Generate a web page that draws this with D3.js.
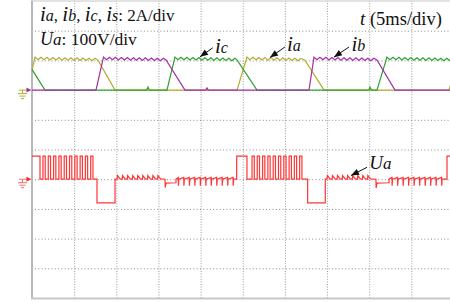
<!DOCTYPE html>
<html><head><meta charset="utf-8">
<script src="https://cdn.jsdelivr.net/npm/d3@7"></script>
<style>html,body{margin:0;padding:0;background:#fff;} svg{display:block;}</style>
</head><body>
<svg id="chart" width="450" height="303"></svg>
<script>
// ---------- DATA (time in ms, currents in A, voltage in V) ----------
const timeTicks = [0,5,10,15,20,25,30,35,40,45,50];          // 5 ms/div
const divisionTicks = [0,1,2,3,4,5,6,7,8,9,10];               // vertical divisions

const ia = [[0,1.35],[0.36,2.22],[0.71,2.05],[1.07,2.21],[1.42,2.04],[1.78,2.21],[2.13,2.03],[2.49,2.2],[2.84,2.03],[3.2,2.19],[3.56,2.02],[3.91,2.18],[4.27,2.01],[4.62,2.18],[4.98,2.0],[5.34,2.17],[5.69,1.99],[6.05,2.16],[6.4,1.99],[6.76,2.15],[7.12,1.98],[7.47,2.14],[7.83,2.02],[9.85,0],[24.32,0],[25.5,2.22],[25.85,2.05],[26.21,2.21],[26.56,2.04],[26.92,2.2],[27.27,2.03],[27.63,2.2],[27.98,2.02],[28.34,2.19],[28.7,2.01],[29.05,2.18],[29.41,2.0],[29.76,2.17],[30.12,2.0],[30.47,2.16],[30.83,1.99],[31.18,2.15],[31.54,1.98],[31.9,2.14],[32.38,2.02],[34.64,0],[49.46,0],[50,1.0]];

const ib = [[0,0],[7.59,0],[8.48,2.22],[8.83,2.05],[9.19,2.21],[9.54,2.04],[9.9,2.21],[10.25,2.03],[10.61,2.2],[10.96,2.03],[11.32,2.19],[11.67,2.02],[12.03,2.18],[12.38,2.01],[12.74,2.18],[13.09,2.0],[13.45,2.17],[13.8,1.99],[14.16,2.16],[14.51,1.99],[14.87,2.15],[15.22,1.98],[15.58,2.14],[15.9,2.03],[18.15,0],[20.6,0],[20.76,0.15],[20.9,0],[32.86,0],[33.45,2.22],[33.8,2.05],[34.16,2.21],[34.51,2.04],[34.87,2.21],[35.22,2.03],[35.58,2.2],[35.93,2.03],[36.29,2.19],[36.64,2.02],[37.0,2.18],[37.35,2.01],[37.71,2.18],[38.06,2.0],[38.42,2.17],[38.77,1.99],[39.13,2.16],[39.48,1.99],[39.84,2.15],[40.19,1.98],[40.55,2.14],[40.92,2.03],[43.06,0],[50,0]];

const ic = [[0,1.4],[1.54,0],[13.6,0],[13.76,0.2],[13.9,0],[16.01,0],[16.96,2.22],[17.31,2.05],[17.67,2.21],[18.02,2.04],[18.38,2.21],[18.73,2.03],[19.09,2.2],[19.44,2.03],[19.8,2.19],[20.15,2.02],[20.51,2.18],[20.86,2.01],[21.22,2.18],[21.57,2.0],[21.93,2.17],[22.28,1.99],[22.64,2.16],[22.99,1.99],[23.35,2.15],[23.7,1.98],[24.06,2.14],[24.32,2.04],[26.69,0],[39.95,0],[40.09,0.2],[40.25,0],[40.92,0],[42.11,2.22],[42.46,2.05],[42.82,2.21],[43.17,2.04],[43.53,2.21],[43.88,2.03],[44.24,2.2],[44.59,2.03],[44.95,2.19],[45.3,2.02],[45.66,2.18],[46.01,2.01],[46.37,2.18],[46.72,2.0],[47.08,2.17],[47.43,1.99],[47.79,2.16],[48.14,1.99],[48.5,2.15],[48.85,1.98],[49.21,2.14],[49.56,1.98],[50,1.96]];

const ua = [[0,78],[0.95,78],[0.95,0],
[1.3,0],[1.3,78],[1.57,78],[1.57,0],[1.93,0],[1.93,78],[2.2,78],[2.2,0],[2.56,0],[2.56,78],[2.83,78],[2.83,0],[3.19,0],[3.19,78],[3.46,78],[3.46,0],[3.82,0],[3.82,78],[4.09,78],[4.09,0],[4.45,0],[4.45,78],[4.72,78],[4.72,0],[5.08,0],[5.08,78],[5.35,78],[5.35,0],[5.71,0],[5.71,78],[5.98,78],[5.98,0],[6.33,0],[6.33,78],[6.6,78],[6.6,0],[6.96,0],[6.96,78],[7.23,78],[7.23,0],
[7.71,0],[7.71,-80],[9.85,-80],[9.85,0],
[10.1,0],[10.14,12],[10.45,1],[10.7,0],[10.74,12],[11.05,1],[11.3,0],[11.34,12],[11.65,1],[11.9,0],[11.94,12],[12.25,1],[12.5,0],[12.54,12],[12.85,1],[13.1,0],[13.14,12],[13.45,1],[13.7,0],[13.74,12],[14.05,1],[14.3,0],[14.34,12],[14.65,1],[14.9,0],[14.94,12],[15.25,1],
[15.78,0],[15.8,-28],[15.9,-13],[17.08,-12],[17.08,0],
[17.35,6],[17.37,-22],[17.42,0],[18.0,6],[18.02,-22],[18.07,0],[18.65,6],[18.67,-22],[18.72,0],[19.3,6],[19.32,-22],[19.37,0],[19.95,6],[19.97,-22],[20.02,0],[20.6,6],[20.62,-22],[20.67,0],[21.25,6],[21.27,-22],[21.32,0],[21.9,6],[21.92,-22],[21.97,0],[22.55,6],[22.57,-22],[22.62,0],[23.2,6],[23.22,-22],[23.27,0],[23.85,6],[23.87,-22],[23.92,0],
[24.28,0],[24.28,78],[25.5,78],[25.5,0],
[26.1,0],[26.1,78],[26.37,78],[26.37,0],[26.72,0],[26.72,78],[26.99,78],[26.99,0],[27.35,0],[27.35,78],[27.62,78],[27.62,0],[27.98,0],[27.98,78],[28.25,78],[28.25,0],[28.61,0],[28.61,78],[28.88,78],[28.88,0],[29.24,0],[29.24,78],[29.51,78],[29.51,0],[29.87,0],[29.87,78],[30.14,78],[30.14,0],[30.5,0],[30.5,78],[30.77,78],[30.77,0],[31.12,0],[31.12,78],[31.39,78],[31.39,0],[31.75,0],[31.75,78],[32.02,78],[32.02,0],
[32.7,0],[32.7,-80],[34.79,-80],[34.79,0],
[35.0,0],[35.04,12],[35.35,1],[35.6,0],[35.64,12],[35.95,1],[36.2,0],[36.24,12],[36.55,1],[36.8,0],[36.84,12],[37.15,1],[37.4,0],[37.44,12],[37.75,1],[38.0,0],[38.04,12],[38.35,1],[38.6,0],[38.64,12],[38.95,1],[39.2,0],[39.24,12],[39.55,1],[39.8,0],[39.84,12],[40.15,1],
[40.8,0],[40.82,-30],[40.92,-13],[42.35,-12],[42.35,0],
[42.7,6],[42.72,-22],[42.77,0],[43.36,6],[43.38,-22],[43.43,0],[44.01,6],[44.03,-22],[44.08,0],[44.66,6],[44.68,-22],[44.73,0],[45.31,6],[45.33,-22],[45.38,0],[45.97,6],[45.99,-22],[46.04,0],[46.62,6],[46.64,-22],[46.69,0],[47.27,6],[47.29,-22],[47.34,0],[47.92,6],[47.94,-22],[47.99,0],[48.58,6],[48.6,-22],[48.65,0],
[49.23,0],[49.23,78],[50,78]];

// annotation labels: [main, sub], label anchor, arrow tail, arrow tip (data coords)
const currentNotes = [
  {main:"i", sub:"c", at:[21.7,2.49], tail:[21.45,2.85], tip:[19.93,2.24]},
  {main:"i", sub:"a", at:[30.25,2.66], tail:[30.0,2.9], tip:[28.23,2.2]},
  {main:"i", sub:"b", at:[37.9,2.66], tail:[37.6,2.9], tip:[35.82,2.22]}
];
const voltageNotes = [
  {main:"U", sub:"a", at:[40.0,33], tail:[39.74,40], tip:[37.84,12.5]}
];
const header1 = [["i","a"],", ",["i","b"],", ",["i","c"],", ",["i","s"],": 2A/div"];
const header2 = [["U","a"],": 100V/div"];
const header3 = [["t",""]," (5ms/div)"];

// ---------- SCALES ----------
const svg = d3.select("#chart");
const x = d3.scaleLinear().domain([0,50]).range([32,453.5]);
const yDiv = d3.scaleLinear().domain([0,10]).range([1,298]);
const yI = d3.scaleLinear().domain([0,2]).range([90.1,60.4]);      // 2 A/div
const yU = d3.scaleLinear().domain([0,100]).range([179.2,149.5]);  // 100 V/div

// ---------- GRID ----------
const gx = svg.append("g").attr("transform","translate(0,298)")
  .call(d3.axisBottom(x).tickValues(timeTicks.slice(1)).tickSize(-297).tickFormat(""));
gx.select(".domain").remove();
gx.selectAll("line").attr("stroke","#9a9a9a").attr("stroke-dasharray","1,1.6");
const gy = svg.append("g").attr("transform","translate(32,0)")
  .call(d3.axisRight(yDiv).tickValues(divisionTicks.slice(1,10)).tickSize(421).tickFormat(""));
gy.select(".domain").remove();
gy.selectAll("line").attr("stroke","#8a8a8a").attr("stroke-dasharray","1,2.3").attr("transform","translate(3,0)");

// frame
svg.append("line").attr("x1",32).attr("x2",32).attr("y1",0.5).attr("y2",298.5).attr("stroke","#a0a0a0").attr("stroke-width",1.5);
svg.append("line").attr("x1",32).attr("x2",450).attr("y1",1).attr("y2",1).attr("stroke","#c8c8c8").attr("stroke-width",1.2);
svg.append("line").attr("x1",31).attr("x2",450).attr("y1",298.5).attr("y2",298.5).attr("stroke","#c8c8c8").attr("stroke-width",2);

// ---------- TRACES ----------
const lineI = d3.line().x(d=>x(d[0])).y(d=>yI(d[1]));
const lineU = d3.line().x(d=>x(d[0])).y(d=>yU(d[1]));
const traces = [
  {data:ia, color:"#b2ac2f", gen:lineI},
  {data:ic, color:"#2fa12f", gen:lineI},
  {data:ib, color:"#a22fa6", gen:lineI},
  {data:ua, color:"#ff3535", gen:lineU}
];
svg.append("g").selectAll("path").data(traces).join("path")
  .attr("d",d=>d.gen(d.data)).attr("fill","none")
  .attr("stroke",d=>d.color).attr("stroke-width",1.2).attr("stroke-linejoin","miter");

// ---------- GROUND MARKERS ----------
function ground(y0, color, arrowColor){
  const g = svg.append("g").attr("stroke",color).attr("stroke-width",1);
  g.append("line").attr("x1",19).attr("x2",31).attr("y1",y0).attr("y2",y0);
  g.append("line").attr("x1",22.5).attr("x2",22.5).attr("y1",y0).attr("y2",y0+3.5);
  g.append("line").attr("x1",18).attr("x2",27).attr("y1",y0+3.5).attr("y2",y0+3.5);
  g.append("line").attr("x1",19.5).attr("x2",25.5).attr("y1",y0+6).attr("y2",y0+6);
  g.append("line").attr("x1",21).attr("x2",24).attr("y1",y0+8.5).attr("y2",y0+8.5);
  svg.append("path").attr("d",`M26.5,${y0-2.5}L31,${y0}L26.5,${y0+2.5}Z`).attr("fill",arrowColor);
}
ground(yI(0), "#b2ac2f", "#a22fa6");
ground(yU(0), "#ff6a6a", "#ff2020");

// ---------- TEXT ----------
const FONT = "'Liberation Serif','Times New Roman',serif";
function rich(parent, segs, xx, yy, bigSize, subSize, plainSize){
  const t = parent.append("text").attr("x",xx).attr("y",yy)
    .attr("font-family",FONT).attr("fill","#111");
  segs.forEach(s=>{
    if(Array.isArray(s)){
      t.append("tspan").attr("font-style","italic").attr("font-size",bigSize).text(s[0]);
      if(s[1]) t.append("tspan").attr("font-style","italic").attr("font-size",subSize).text(s[1]);
    } else {
      t.append("tspan").attr("font-size",plainSize).text(s);
    }
  });
  return t;
}
rich(svg, header1, 40, 21, 21, 16, 17);
rich(svg, header2, 40, 45, 18, 17, 17.5);
rich(svg, header3, 360, 25, 19, 18, 18.5);

// ---------- ARROW ANNOTATIONS ----------
function arrow(x1,y1,x2,y2){
  svg.append("line").attr("x1",x1).attr("y1",y1).attr("x2",x2).attr("y2",y2)
    .attr("stroke","#111").attr("stroke-width",1);
  const a = Math.atan2(y2-y1,x2-x1), L=8, W=3.2;
  const bx = x2 - L*Math.cos(a), by = y2 - L*Math.sin(a);
  const px = -Math.sin(a)*W, py = Math.cos(a)*W;
  svg.append("path").attr("d",`M${x2},${y2}L${bx+px},${by+py}L${bx-px},${by-py}Z`).attr("fill","#111");
}
currentNotes.forEach(n=>{
  arrow(x(n.tail[0]),yI(n.tail[1]),x(n.tip[0]),yI(n.tip[1]));
  rich(svg,[[n.main,n.sub]],x(n.at[0]),yI(n.at[1]),21,16,16);
});
voltageNotes.forEach(n=>{
  arrow(x(n.tail[0]),yU(n.tail[1]),x(n.tip[0]),yU(n.tip[1]));
  rich(svg,[[n.main,n.sub]],x(n.at[0]),yU(n.at[1]),19,17,16);
});
</script>
</body></html>
